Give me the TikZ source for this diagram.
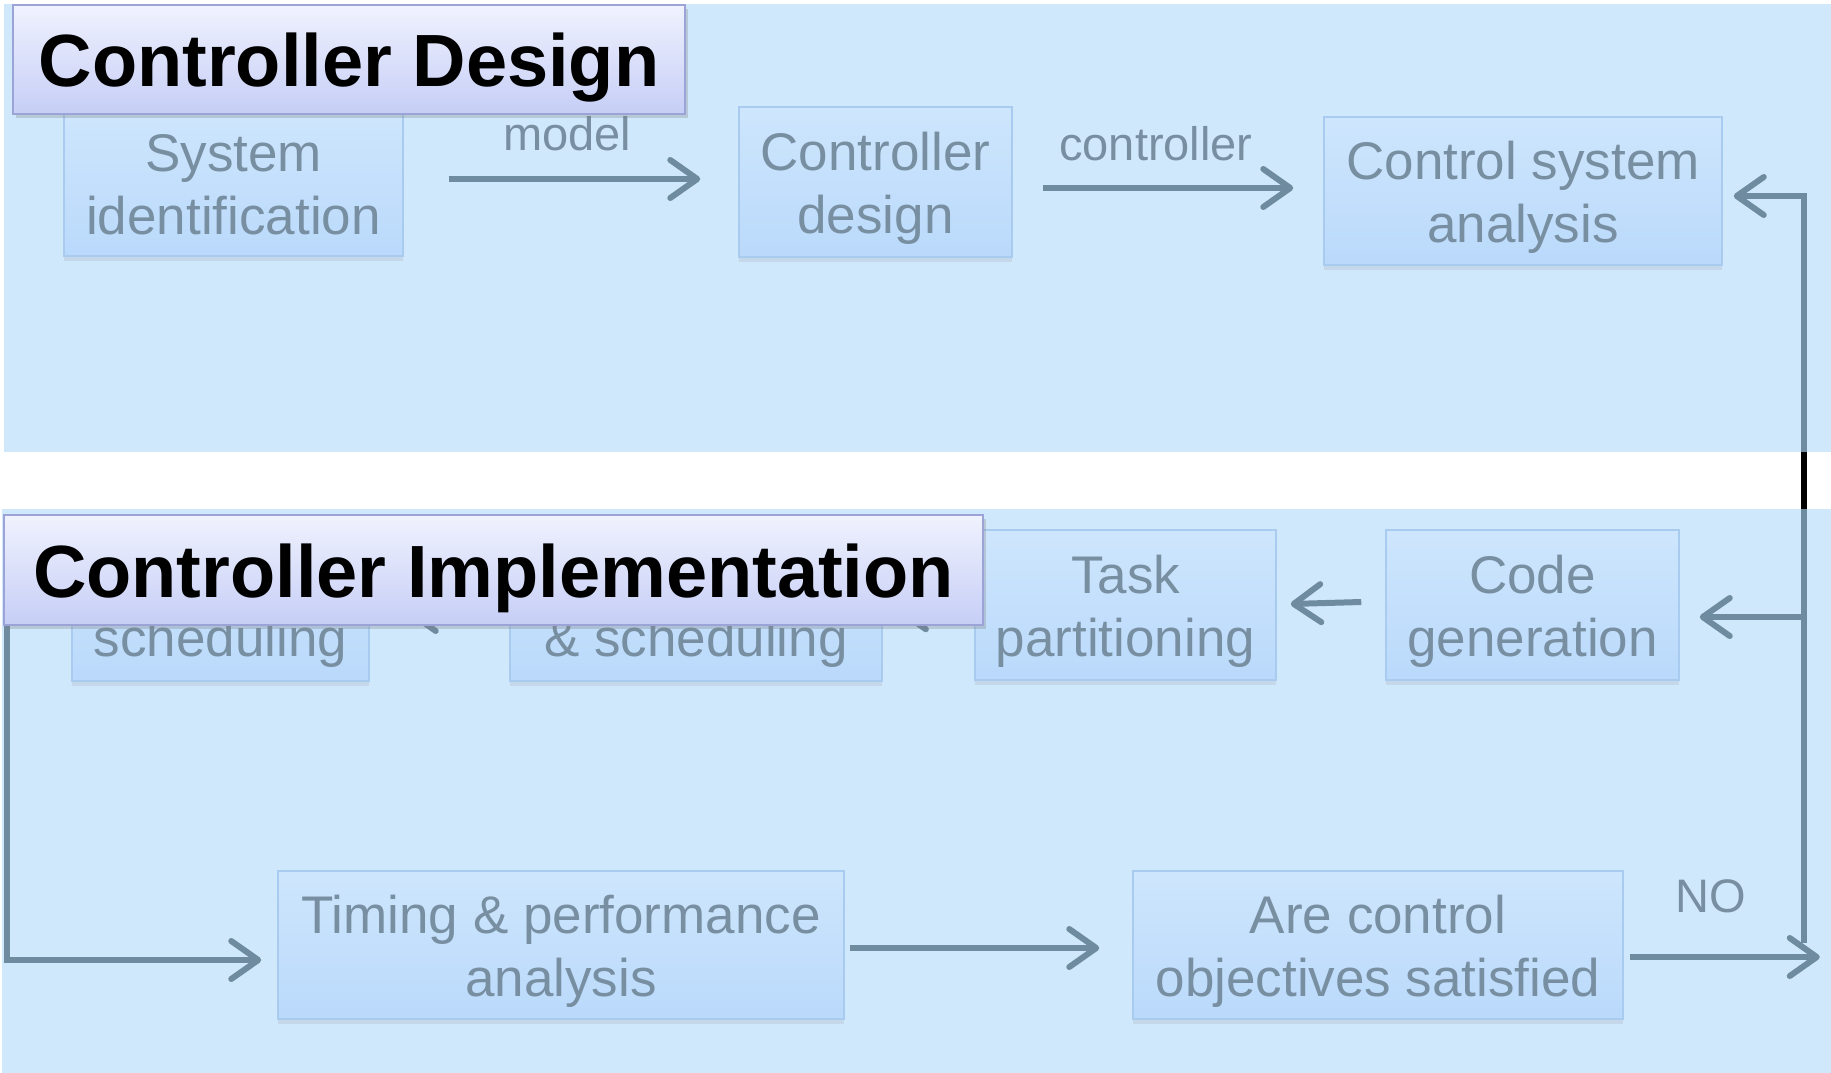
\documentclass[tikz,border=0pt]{standalone}
\usepackage{fontspec}
\setmainfont{Liberation Sans}
\usetikzlibrary{arrows.meta,calc,shadows}
\definecolor{panel}{RGB}{208,232,252}
\definecolor{boxtop}{RGB}{206,230,253}
\definecolor{boxbot}{RGB}{186,217,251}
\definecolor{boxline}{RGB}{170,203,240}
\definecolor{txt}{RGB}{120,143,162}
\definecolor{arrc}{RGB}{111,139,160}
\definecolor{ttop}{RGB}{240,242,254}
\definecolor{tbot}{RGB}{198,206,246}
\definecolor{tline}{RGB}{156,163,214}
\newcommand\twolines[2]{\rule{0pt}{52pt}#1\\#2\rule[-13pt]{0pt}{13pt}}
\tikzset{
  stepbox/.style={draw=boxline, line width=1.5pt, top color=boxtop, bottom color=boxbot,
    text=txt, align=center, font=\fontsize{53}{63}\selectfont, inner sep=0pt,
    drop shadow={shadow xshift=0pt, shadow yshift=-5pt, opacity=0.15}},
  titlebox/.style={draw=tline, line width=2pt, top color=ttop, bottom color=tbot,
    font=\fontsize{74}{80}\selectfont\bfseries, text=black, inner sep=0pt,
    text height=59pt, text depth=5pt,
    drop shadow={shadow xshift=3pt, shadow yshift=-4pt, opacity=0.3}},
  arr/.style={draw=arrc, line width=6pt, -{Straight Barb[length=27pt, width=38pt, round]}},
  lbl/.style={text=txt, font=\fontsize{47}{50}\selectfont, inner sep=0pt},
  panelbg/.style={fill=panel, draw=none}
}
\begin{document}
\begin{tikzpicture}[x=1pt,y=-1pt]
\useasboundingbox (0,0) rectangle (1831,1073);
\fill[white] (0,0) rectangle (1831,1073);
\fill[panelbg] (4,4) rectangle (1831,452);
\fill[panelbg] (2,509) rectangle (1831,1073);

% top row
\node[stepbox, minimum width=339pt, minimum height=145pt] (sysid) at (233.5,183.5) {\twolines{System}{identification}};
\node[stepbox, minimum width=273pt, minimum height=150pt] (ctrl) at (875.5,182) {\twolines{Controller}{design}};
\node[stepbox, minimum width=398pt, minimum height=148pt] (csa) at (1523,191) {\twolines{Control system}{analysis}};

% middle row
\node[stepbox, minimum width=297pt, minimum height=151pt] (sched) at (220.5,605.5) {\twolines{}{scheduling}};
\node[stepbox, minimum width=372pt, minimum height=151pt] (alloc) at (696,605.5) {\twolines{}{\& scheduling}};
\node[stepbox, minimum width=301pt, minimum height=150pt] (task) at (1125.5,605) {\twolines{Task}{partitioning}};
\node[stepbox, minimum width=293pt, minimum height=150pt] (code) at (1532.5,605) {\twolines{Code}{generation}};

% bottom row
\node[stepbox, minimum width=566pt, minimum height=148pt] (timing) at (561,945) {\twolines{Timing \& performance}{analysis}};
\node[stepbox, minimum width=490pt, minimum height=148pt] (are) at (1378,945) {\twolines{Are control}{objectives satisfied}};

% connectors top
\draw[arr] ($(sysid.east)+(45,-4.5)$) -- ($(ctrl.west)+(-38,-3)$);
\node[lbl] (lmodel) at (567,134) {model};
\draw[arr] ($(ctrl.east)+(30,6)$) -- ($(csa.west)+(-30,-3)$);
\node[lbl] (lctrl) at (1156,144) {controller};

% feedback
\coordinate (fbbot) at (1804,943);
\coordinate (fbmid) at (1804,617);
\draw[arr] (fbbot) |- ($(csa.east)+(11,5)$);
\draw[arr] (fbmid) -- ($(code.east)+(20,12)$);
\draw[black, line width=6pt] (1804,452) -- (1804,509);

% middle row arrows
\draw[arr] ($(code.west)+(-24,-3)$) -- ($(task.east)+(14,-1)$);
\draw[arr] ($(task.west)+(-15,5)$) -- ($(alloc.east)+(13,5)$);
\draw[arr] ($(alloc.west)+(-15,6.5)$) -- ($(sched.east)+(36,6.5)$);

% left line
\coordinate (ltop) at (7,600);
\draw[arr] (ltop) |- ($(timing.west)+(-16,15)$);

% bottom arrows
\draw[arr] ($(timing.east)+(5,3)$) -- ($(are.west)+(-33,3)$);
\draw[arr] ($(are.east)+(6,12)$) -- ++(190,0) coordinate (noend);
\node[lbl] (lno) at (1711,896) {NO};

% titles
\node[titlebox, minimum width=672pt, minimum height=109pt] (t1) at (349,59.5) {Controller Design};
\node[titlebox, minimum width=979pt, minimum height=110pt] (t2) at (493.5,570) {Controller Implementation};
\end{tikzpicture}
\end{document}
